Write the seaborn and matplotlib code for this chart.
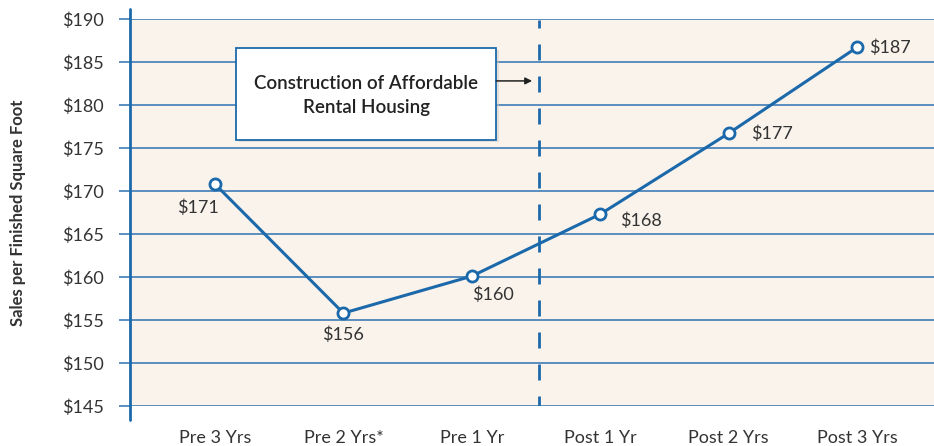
import matplotlib
matplotlib.use("Agg")
import matplotlib.pyplot as plt
import seaborn as sns
import pandas as pd
from matplotlib.patches import Rectangle

periods = ["Pre 3 Yrs", "Pre 2 Yrs*", "Pre 1 Yr", "Post 1 Yr", "Post 2 Yrs", "Post 3 Yrs"]
values = [170.8, 155.8, 160.1, 167.3, 176.7, 186.7]
value_labels = ["$171", "$156", "$160", "$168", "$177", "$187"]
y_ticks = [145, 150, 155, 160, 165, 170, 175, 180, 185, 190]
y_tick_labels = ["$" + str(v) for v in y_ticks]
annotation_text = "Construction of Affordable\nRental Housing"
y_title = "Sales per Finished Square Foot"

BLUE = "#1b69aa"
GRID = "#2e72b0"
BG = "#f9f3ec"
TEXT = "#333333"

sns.set_theme(style="white")
plt.rcParams["font.family"] = ["Lato", "DejaVu Sans"]

df = pd.DataFrame({"period": periods, "value": values})

fig = plt.figure(figsize=(9.34, 4.46), dpi=100)
ax = fig.add_axes([130 / 934, 40 / 446, 804 / 934, 387 / 446])
ax.set_facecolor(BG)

for yv in y_ticks:
    ax.axhline(yv, color=GRID, lw=1.1, zorder=1)

# event marker (dashed vertical line)
ax.plot([2.52, 2.52], [189.88, 145], color=BLUE, lw=2, ls=(2.88, (5.76, 5.76)),
        solid_capstyle="butt", dash_capstyle="butt", zorder=2)

sns.lineplot(data=df, x="period", y="value", sort=False, ax=ax, color=BLUE, lw=2.2,
             marker="o", markersize=8, markerfacecolor="white", markeredgecolor=BLUE,
             markeredgewidth=2, zorder=4)

offsets = [(-17, -24, "center", "center"), (0, -22, "center", "center"),
           (21, -19, "center", "center"), (20, -7, "left", "center"),
           (22, 0, "left", "center"), (12, 0, "left", "center")]
for i, (v, lab) in enumerate(zip(values, value_labels)):
    dx, dy, ha, va = offsets[i]
    ax.annotate(lab, (i, v), xytext=(dx, dy), textcoords="offset pixels",
                ha=ha, va=va, fontsize=13, color=TEXT, zorder=5)

ax.set_xlim(-0.662, 5.6)
ax.set_ylim(145, 190)
ax.set_yticks(y_ticks)
ax.set_yticklabels(y_tick_labels, fontsize=13, color=TEXT)
ax.tick_params(axis="y", which="both", left=True, direction="out", length=8,
               width=1.1, color=GRID, pad=11)
ax.tick_params(axis="x", bottom=False, labelsize=13, labelcolor=TEXT, pad=11)
ax.set_xlabel("")
ax.set_ylabel(y_title, fontsize=12, fontweight="bold", color=TEXT, labelpad=26)

for s in ["top", "right", "bottom", "left"]:
    ax.spines[s].set_visible(False)
ax.plot([0, 0], [-0.035, 1.025], transform=ax.transAxes, color=BLUE, lw=2,
        clip_on=False, zorder=6)

# annotation box
bx0, bx1 = 0.164, 2.19
by0, by1 = 175.93, 186.63
shadow = Rectangle((bx0 + 0.02, by0 - 0.25), bx1 - bx0, by1 - by0, facecolor="#cfcac4",
                   edgecolor="none", alpha=0.5, zorder=6)
ax.add_patch(shadow)
box = Rectangle((bx0, by0), bx1 - bx0, by1 - by0, facecolor="white", edgecolor=BLUE,
                lw=1.3, zorder=7)
ax.add_patch(box)
ax.text((bx0 + bx1) / 2, 181.1, annotation_text, ha="center", va="center",
        fontsize=13.5, fontweight="semibold", color="#222222", zorder=8, linespacing=1.45)
ax.annotate("", xy=(2.47, 182.8), xytext=(bx1, 182.8),
            arrowprops=dict(arrowstyle="-|>", color="#222222", lw=1.1,
                            mutation_scale=10, shrinkA=0, shrinkB=0), zorder=8)

fig.savefig("out.png", dpi=100)
